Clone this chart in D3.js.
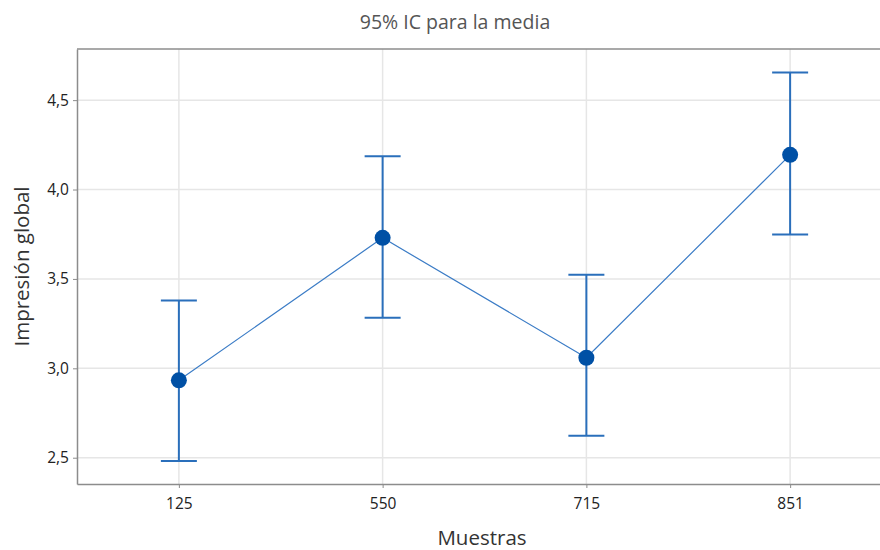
<!DOCTYPE html>
<html>
<head>
<meta charset="utf-8">
<script src="https://cdn.jsdelivr.net/npm/d3@7"></script>
<style>
body{margin:0;background:#fff;}
svg text{font-family:"Open Sans","Noto Sans",sans-serif;}
</style>
</head>
<body>
<div id="chart"></div>
<script>
var muestras=['125','550','715','851'];
var medias=[2.933,3.730,3.059,4.194];
var icInf=[2.482,3.283,2.623,3.748];
var icSup=[3.379,4.186,3.523,4.655];
var yTicks=[2.5,3.0,3.5,4.0,4.5];

var width=880,height=550;
var margin={left:77,right:-12,top:49,bottom:66};

var svg=d3.select('#chart').append('svg')
    .attr('width',width)
    .attr('height',height);

var x=d3.scalePoint()
    .domain(muestras)
    .range([margin.left,width-margin.right])
    .padding(0.5);
var y=d3.scaleLinear()
    .domain([2.353,4.786])
    .range([height-margin.bottom,margin.top]);

var fmt=function(d){return d3.format('.1f')(d).replace('.',',');};

// grid
svg.append('g').selectAll('line.gy')
    .data(yTicks).enter().append('line')
    .attr('x1',margin.left).attr('x2',width-margin.right)
    .attr('y1',function(d){return y(d);}).attr('y2',function(d){return y(d);})
    .attr('stroke','#e6e6e6').attr('stroke-width',1.5);
svg.append('g').selectAll('line.gx')
    .data(muestras).enter().append('line')
    .attr('x1',function(d){return x(d);}).attr('x2',function(d){return x(d);})
    .attr('y1',margin.top).attr('y2',height-margin.bottom)
    .attr('stroke','#e6e6e6').attr('stroke-width',1.5);

// axes
var yAxis=d3.axisLeft(y).tickValues(yTicks).tickFormat(fmt).tickSize(4).tickSizeOuter(0);
var xAxis=d3.axisBottom(x).tickSize(4).tickSizeOuter(0);
var gy=svg.append('g')
    .attr('transform','translate('+margin.left+',0)')
    .call(yAxis);
var gx=svg.append('g')
    .attr('transform','translate(0,'+(height-margin.bottom)+')')
    .call(xAxis);
[gx,gy].forEach(function(g){
    g.select('.domain').attr('stroke','#8c8c8c').attr('stroke-width',1.5);
    g.selectAll('.tick line').attr('stroke','#8c8c8c');
    g.selectAll('.tick text').attr('fill','#222').style('font-size','15.5px');
});
gy.selectAll('.tick text').attr('x',-8);
gx.selectAll('.tick text').attr('y',14);
svg.append('line')
    .attr('x1',margin.left).attr('x2',width-margin.right)
    .attr('y1',margin.top).attr('y2',margin.top)
    .attr('stroke','#8c8c8c').attr('stroke-width',1.5);

// connecting line
var idx=d3.range(muestras.length);
svg.append('path')
    .datum(idx)
    .attr('fill','none')
    .attr('stroke','#3b7cc6')
    .attr('stroke-width',1.2)
    .attr('d',d3.line()
        .x(function(i){return x(muestras[i]);})
        .y(function(i){return y(medias[i]);}));

// error bars
var eb=svg.append('g').selectAll('g').data(idx).enter().append('g')
    .attr('stroke','#2a6fbb').attr('stroke-width',2);
eb.append('line')
    .attr('x1',function(i){return x(muestras[i]);})
    .attr('x2',function(i){return x(muestras[i]);})
    .attr('y1',function(i){return y(icInf[i]);})
    .attr('y2',function(i){return y(icSup[i]);});
eb.append('line')
    .attr('x1',function(i){return x(muestras[i])-18;})
    .attr('x2',function(i){return x(muestras[i])+18;})
    .attr('y1',function(i){return y(icSup[i]);})
    .attr('y2',function(i){return y(icSup[i]);});
eb.append('line')
    .attr('x1',function(i){return x(muestras[i])-18;})
    .attr('x2',function(i){return x(muestras[i])+18;})
    .attr('y1',function(i){return y(icInf[i]);})
    .attr('y2',function(i){return y(icInf[i]);});

// means
svg.append('g').selectAll('circle')
    .data(idx).enter().append('circle')
    .attr('cx',function(i){return x(muestras[i]);})
    .attr('cy',function(i){return y(medias[i]);})
    .attr('r',8)
    .attr('fill','#0050a5');

// titles
svg.append('text')
    .attr('x',455).attr('y',29)
    .attr('text-anchor','middle')
    .attr('fill','#555')
    .style('font-size','19.5px')
    .text('95% IC para la media');
svg.append('text')
    .attr('x',482).attr('y',545)
    .attr('text-anchor','middle')
    .attr('fill','#333')
    .style('font-size','20.5px')
    .text('Muestras');
svg.append('text')
    .attr('transform','translate(29,'+((margin.top+height-margin.bottom)/2)+') rotate(-90)')
    .attr('text-anchor','middle')
    .attr('fill','#333')
    .style('font-size','20.5px')
    .text('Impresión global');
</script>
</body>
</html>
